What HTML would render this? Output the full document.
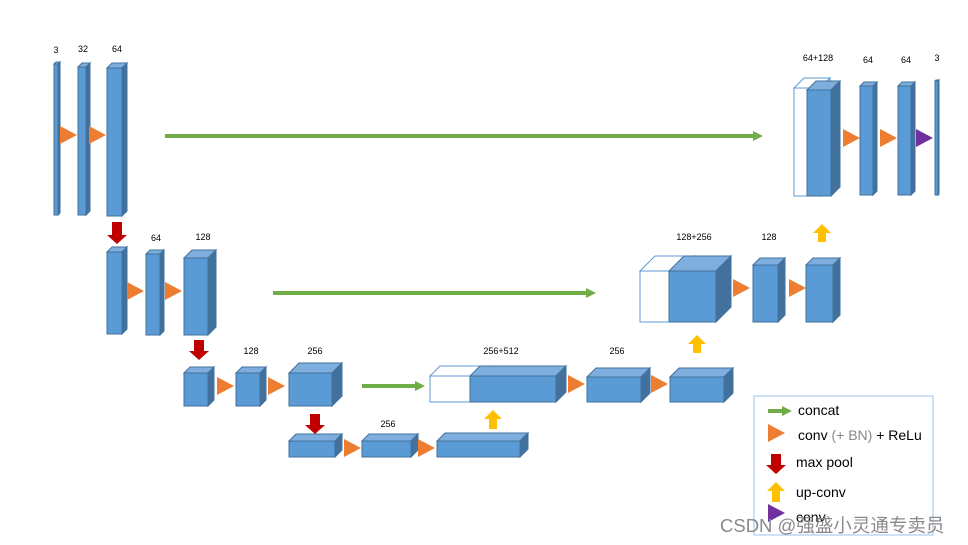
<!DOCTYPE html>
<html><head><meta charset="utf-8"><style>
html,body{margin:0;padding:0;background:#fff;width:968px;height:545px;overflow:hidden}
svg{display:block}
text{font-family:"Liberation Sans",sans-serif;fill:#000}
.f{fill:#5B9BD5;stroke:#41719C;stroke-width:1}
.t{fill:#7EAEDD;stroke:#41719C;stroke-width:1}
.s{fill:#41719C;stroke:#41719C;stroke-width:1}
.w{fill:#fff;stroke:#5B9BD5;stroke-width:1}
</style></head><body>
<svg id="g" width="968" height="545" viewBox="0 0 968 545" xmlns="http://www.w3.org/2000/svg">
<g id="shapes"></g>
<g font-size="9" text-anchor="middle">
<text x="56" y="53">3</text><text x="83" y="52">32</text><text x="117" y="52">64</text>
<text x="156" y="241">64</text><text x="203" y="240">128</text>
<text x="251" y="354">128</text><text x="315" y="354">256</text>
<text x="388" y="427">256</text>
<text x="501" y="354">256+512</text><text x="617" y="354">256</text>
<text x="694" y="240">128+256</text><text x="769" y="240">128</text>
<text x="818" y="61">64+128</text><text x="868" y="63">64</text><text x="906" y="63">64</text><text x="937" y="61">3</text>
</g>
<rect x="754" y="396" width="179" height="139" fill="none" stroke="#9DC3E6" stroke-width="1"/>
<g font-size="14">
<text x="798" y="415">concat</text>
<text x="798" y="440">conv <tspan fill="#888">(+ BN)</tspan> + ReLu</text>
<text x="796" y="467">max pool</text>
<text x="796" y="497">up-conv</text>
<text x="796" y="522">conv</text>
</g>
<text x="720" y="532" font-size="18.5" style="fill:#8a8a8a;font-family:'Liberation Sans','Noto Sans CJK SC',sans-serif">CSDN @强盛小灵通专卖员</text>
</svg>
<script>
var S='';
function box(x,y,w,h,d,white){
 var c1=white?'w':'f',c2=white?'w':'t',c3=white?'w':'s';
 S+='<polygon class="'+c2+'" points="'+x+','+y+' '+(x+d)+','+(y-d)+' '+(x+w+d)+','+(y-d)+' '+(x+w)+','+y+'"/>';
 S+='<polygon class="'+c3+'" points="'+(x+w)+','+y+' '+(x+w+d)+','+(y-d)+' '+(x+w+d)+','+(y+h-d)+' '+(x+w)+','+(y+h)+'"/>';
 S+='<rect class="'+c1+'" x="'+x+'" y="'+y+'" width="'+w+'" height="'+h+'"/>';
}
function tri(x,y,col){col=col||'#ED7D31';S+='<polygon fill="'+col+'" points="'+x+','+(y-9)+' '+(x+17)+','+y+' '+x+','+(y+9)+'"/>';}
function green(x1,x2,y){S+='<rect x="'+x1+'" y="'+(y-2)+'" width="'+(x2-x1-9)+'" height="4" fill="#70AD47"/><polygon fill="#70AD47" points="'+(x2-10)+','+(y-5)+' '+x2+','+y+' '+(x2-10)+','+(y+5)+'"/>';}
function down(x,y1,y2){var m=y2-9;S+='<rect x="'+(x-5)+'" y="'+y1+'" width="10" height="'+(m-y1)+'" fill="#C00000"/><polygon fill="#C00000" points="'+(x-10)+','+m+' '+(x+10)+','+m+' '+x+','+y2+'"/>';}
function up(x,y1,y2){var m=y1+9;S+='<rect x="'+(x-4)+'" y="'+m+'" width="8" height="'+(y2-m)+'" fill="#FFC000"/><polygon fill="#FFC000" points="'+(x-9)+','+m+' '+(x+9)+','+m+' '+x+','+y1+'"/>';}
box(54,64,4,151,2);box(78,67,8,148,4);box(107,68,15,148,5);
box(794,88,26,108,10,1);box(807,90,24,106,9);box(860,86,13,109,4);box(898,86,13,109,4);box(935,81,3,114,1);
box(107,252,15,82,5);box(146,254,14,81,4);box(184,258,24,77,8);
box(640,271,40,51,15,1);box(669,271,47,51,15);box(753,265,25,57,7);box(806,265,27,57,7);
box(184,373,24,33,6);box(236,373,24,33,6);box(289,373,43,33,10);
box(430,376,50,26,10,1);box(470,376,86,26,10);box(587,377,54,25,9);box(670,377,54,25,9);
box(289,441,46,16,7);box(362,441,49,16,7);box(437,441,83,16,8);
tri(60,135);tri(89,135);tri(843,138);tri(880,138);tri(916,138,'#7030A0');
tri(127,291);tri(165,291);tri(733,288);tri(789,288);
tri(217,386);tri(268,386);tri(568,384);tri(651,384);
tri(344,448);tri(418,448);
green(165,763,136);green(273,596,293);green(362,425,386);
green(768,792,411);tri(768,433);down(776,454,474);up(776,482,502);tri(768,513,'#7030A0');
down(117,222,244);down(199,340,360);down(315,414,434);
up(822,224,242);up(697,335,353);up(493,410,429);
document.getElementById('shapes').innerHTML=S;
</script>
</body></html>
